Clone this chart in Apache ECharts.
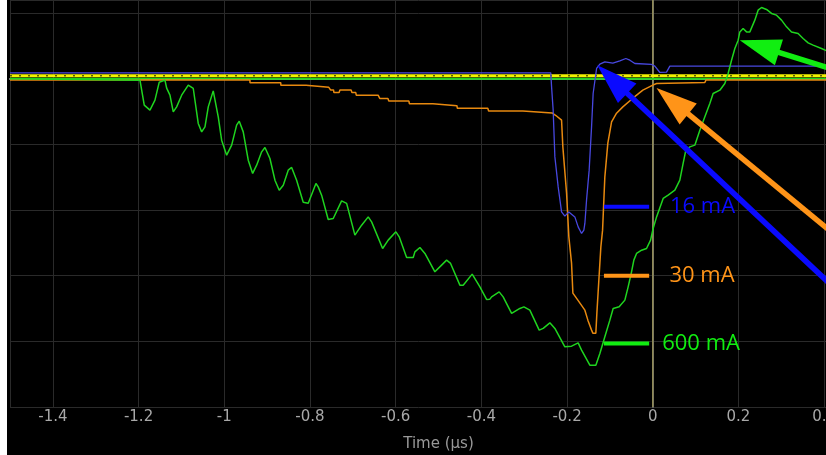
<!DOCTYPE html>
<html><head><meta charset="utf-8">
<script src="https://cdn.jsdelivr.net/npm/echarts@6/dist/echarts.min.js"></script>
<style>html,body{margin:0;padding:0;background:#000}#c{width:826px;height:455px}</style>
</head><body><div id="c"></div>
<script>
// x: time (µs), y: trace level in screen divisions (baseline = 0)
const xTickLabels = [-1.4, -1.2, -1, -0.8, -0.6, -0.4, -0.2, 0, 0.2, 0.4];
const xName = 'Time (µs)';

const blueTrace = [
  [-1.5,0.09],[-0.238,0.09],[-0.2361,-0.123],[-0.2324,-0.478],[-0.2284,-1.190],[-0.2207,-1.647],
  [-0.2128,-2.028],[-0.2051,-2.093],[-0.1958,-2.028],[-0.1818,-2.104],[-0.1741,-2.256],[-0.1661,-2.356],
  [-0.1608,-2.306],[-0.1584,-2.204],[-0.1545,-1.849],[-0.1484,-1.392],[-0.1428,-0.733],[-0.1391,-0.224],
  [-0.1311,0.157],[-0.1234,0.222],[-0.1118,0.257],[-0.0931,0.238],[-0.0768,0.273],[-0.0628,0.309],
  [-0.0534,0.283],[-0.0418,0.233],[-0.0028,0.218],[0.0049,0.192],[0.0166,0.096],[0.0322,0.101],
  [0.0399,0.192],[0.5,0.192]
];

const orangeTrace = [
  [-1.5,-0.02],[-0.940,-0.02],[-0.940,-0.06],[-0.868,-0.06],[-0.868,-0.10],[-0.809,-0.10],[-0.809,-0.13],
  [-0.756,-0.13],[-0.752,-0.17],[-0.745,-0.17],[-0.744,-0.21],[-0.732,-0.21],[-0.730,-0.17],[-0.704,-0.17],
  [-0.702,-0.21],[-0.693,-0.21],[-0.692,-0.25],[-0.641,-0.25],[-0.637,-0.30],[-0.618,-0.30],[-0.616,-0.34],
  [-0.602,-0.34],[-0.599,-0.31],[-0.596,-0.34],[-0.569,-0.34],[-0.568,-0.38],[-0.513,-0.38],[-0.511,-0.41],
  [-0.457,-0.41],[-0.456,-0.45],[-0.385,-0.45],[-0.383,-0.49],[-0.303,-0.49],[-0.302,-0.52],[-0.235,-0.52],
  [-0.233,-0.55],[-0.226,-0.56],[-0.2128,-0.631],[-0.2098,-1.037],[-0.2011,-1.743],[-0.1958,-2.408],
  [-0.1895,-2.809],[-0.1864,-3.266],[-0.1748,-3.372],[-0.1584,-3.525],[-0.1514,-3.677],[-0.1428,-3.829],
  [-0.1398,-3.875],[-0.1328,-3.875],[-0.1304,-3.570],[-0.1258,-3.068],[-0.1211,-2.561],[-0.1171,-2.306],
  [-0.1118,-1.494],[-0.1048,-0.981],[-0.0961,-0.657],[-0.0845,-0.524],[-0.0698,-0.428],[-0.0464,-0.296],
  [-0.0231,-0.174],[0.0002,-0.097],[0.0089,-0.072],[0.1216,-0.056],[0.124,-0.02],[0.5,-0.02]
];

const greenTrace = [
  [-1.5,0.0],[-1.1967,-0.021],[-1.1867,-0.402],[-1.1734,-0.478],[-1.1617,-0.326],[-1.1517,-0.052],
  [-1.1384,-0.021],[-1.1344,-0.143],[-1.1267,-0.250],[-1.1190,-0.504],[-1.1111,-0.428],[-1.0994,-0.250],
  [-1.0840,-0.097],[-1.0723,-0.148],[-1.0607,-0.681],[-1.0527,-0.809],[-1.0450,-0.733],[-1.0373,-0.428],
  [-1.0257,-0.184],[-1.0140,-0.580],[-1.0061,-0.935],[-0.9944,-1.164],[-0.9827,-1.011],[-0.9711,-0.707],
  [-0.9650,-0.646],[-0.9557,-0.809],[-0.9440,-1.240],[-0.9337,-1.442],[-0.9244,-1.316],[-0.9127,-1.113],
  [-0.9050,-1.046],[-0.8934,-1.214],[-0.8817,-1.545],[-0.8717,-1.697],[-0.8623,-1.621],[-0.8507,-1.392],
  [-0.8427,-1.351],[-0.8311,-1.545],[-0.8157,-1.880],[-0.8040,-1.895],[-0.7860,-1.595],[-0.7807,-1.647],
  [-0.7728,-1.773],[-0.7574,-2.143],[-0.7457,-2.128],[-0.7261,-1.860],[-0.7144,-1.899],[-0.6951,-2.382],
  [-0.6794,-2.230],[-0.6640,-2.104],[-0.6561,-2.180],[-0.6304,-2.585],[-0.6174,-2.458],[-0.5994,-2.332],
  [-0.5917,-2.408],[-0.5744,-2.722],[-0.5590,-2.722],[-0.5551,-2.637],[-0.5434,-2.570],[-0.5317,-2.661],
  [-0.5084,-2.941],[-0.4928,-2.839],[-0.4811,-2.763],[-0.4718,-2.813],[-0.4501,-3.144],[-0.4424,-3.144],
  [-0.4214,-2.976],[-0.4034,-3.170],[-0.3878,-3.362],[-0.3801,-3.357],[-0.3761,-3.322],[-0.3584,-3.246],
  [-0.3491,-3.322],[-0.3294,-3.575],[-0.3101,-3.499],[-0.3007,-3.474],[-0.2868,-3.525],[-0.2650,-3.829],
  [-0.2557,-3.803],[-0.2401,-3.718],[-0.2284,-3.803],[-0.2051,-4.084],[-0.1895,-4.073],[-0.1741,-4.023],
  [-0.1661,-4.134],[-0.1468,-4.363],[-0.1328,-4.363],[-0.1234,-4.184],[-0.1118,-3.931],[-0.1001,-3.677],
  [-0.0924,-3.499],[-0.0784,-3.474],[-0.0651,-3.372],[-0.0574,-3.170],[-0.0495,-2.941],[-0.0441,-2.763],
  [-0.0378,-2.661],[-0.0261,-2.611],[-0.0145,-2.585],[-0.0051,-2.458],[0.0009,-2.280],[0.0089,-2.104],
  [0.0243,-1.823],[0.0359,-1.773],[0.0516,-1.697],[0.0632,-1.545],[0.0709,-1.290],[0.0772,-1.088],
  [0.0866,-1.037],[0.0982,-1.011],[0.1099,-0.783],[0.1216,-0.580],[0.1332,-0.376],[0.1409,-0.224],
  [0.1566,-0.174],[0.1682,-0.072],[0.1759,0.081],[0.1839,0.283],[0.1916,0.462],[0.1993,0.588],
  [0.2032,0.714],[0.2109,0.766],[0.2189,0.714],[0.2266,0.714],[0.2382,0.893],[0.2459,1.045],
  [0.2539,1.086],[0.2655,1.056],[0.2772,0.995],[0.2888,0.969],[0.3005,0.893],[0.3122,0.791],
  [0.3238,0.714],[0.3392,0.690],[0.3509,0.614],[0.3626,0.547],[0.3742,0.512],[0.3938,0.462],[0.4132,0.405]
];

const greenBaseline = [[-1.5, 0.0], [0.5, 0.0]];
const yellowBand = [[-1.5, 0.045], [0.5, 0.045]];

// annotations (data coordinates)
const legendNames = ['16 mA', '30 mA', '600 mA'];
const legendLevels = [-1.951, -3.002, -4.032];
const legendSpan = [-0.1139, -0.0084];
const legendTextT = [0.0400, 0.0390, 0.0220];
const arrowTips = [[-0.1293, 0.207], [0.0089, -0.139], [0.2032, 0.588]];
const arrowTails = [[0.5, -3.654], [0.5, -2.78], [0.5, -0.02]];
const cursorT = 0;

const traceColors = ['#4848e0', '#e8890f', '#1fd41f'];
const annoColors = ['#0a0aff', '#ff9418', '#11ee11'];

const chart = echarts.init(document.getElementById('c'), null, {renderer: 'canvas'});
const lineS = (data, color, width, z, extra) => Object.assign({
  type: 'line', data, showSymbol: false, symbol: 'none', animation: false, z: z,
  lineStyle: {color, width}, emphasis: {disabled: true}, silent: true
}, extra || {});

chart.setOption({
  backgroundColor: '#000',
  animation: false,
  grid: {left: 10, right: -41, top: 0, bottom: 48, containLabel: false, outerBoundsMode: 'none'},
  xAxis: {
    type: 'value', min: -1.5, max: 0.5, splitNumber: 10,
    axisLine: {show: true, lineStyle: {color: '#9a9a9a', width: 2}},
    axisTick: {show: false},
    splitLine: {show: true, lineStyle: {color: '#2a2a2a', width: 1}},
    axisLabel: {
      color: '#a8a8a8', fontSize: 15, fontFamily: 'DejaVu Sans', margin: 3,
      showMinLabel: true, showMaxLabel: true, hideOverlap: false,
      formatter: v => {
        const hit = xTickLabels.find(t => Math.abs(t - v) < 1e-6);
        return hit === undefined ? '' : String(hit);
      }
    },
    name: xName, nameLocation: 'middle', nameGap: 30,
    nameTextStyle: {color: '#999999', fontSize: 15, fontFamily: 'DejaVu Sans'}
  },
  yAxis: {
    type: 'value', min: -5, max: 1.2, interval: 1,
    axisLine: {show: true, lineStyle: {color: '#6a6a6a', width: 2}},
    axisTick: {show: false}, axisLabel: {show: false},
    splitLine: {show: true, lineStyle: {color: '#2a2a2a', width: 1}}
  },
  series: [
    lineS(greenBaseline, '#1fd41f', 2, 2),
    lineS(yellowBand, '#f2f200', 3, 3),
    lineS(yellowBand, '#202000', 1, 3, {lineStyle: {color: '#1a1a00', width: 1, type: [2, 7]}}),
    lineS(orangeTrace, traceColors[1], 1.5, 4),
    lineS(blueTrace, traceColors[0], 1.3, 5),
    lineS(greenTrace, traceColors[2], 1.5, 6)
  ]
});

function px(p) { return chart.convertToPixel({gridIndex: 0}, p); }
const g = [];
g.push({type: 'rect', z: 200, shape: {x: 0, y: 0, width: 7, height: 455}, style: {fill: '#ffffff'}});
// cursor line at t = 0
const c0 = px([cursorT, 1.2]), c1 = px([cursorT, -5]);
g.push({type: 'line', z: 1, shape: {x1: c0[0], y1: c0[1], x2: c1[0], y2: c1[1]}, style: {stroke: '#8f8955', lineWidth: 1.5}});
// legend segments and labels
for (let i = 0; i < 3; i++) {
  const a = px([legendSpan[0], legendLevels[i]]), b = px([legendSpan[1], legendLevels[i]]);
  g.push({type: 'line', z: 100, shape: {x1: a[0], y1: a[1], x2: b[0], y2: b[1]}, style: {stroke: annoColors[i], lineWidth: 4}});
  const tp = px([legendTextT[i], legendLevels[i]]);
  g.push({type: 'text', z: 110, x: tp[0], y: tp[1], style: {text: legendNames[i], fill: annoColors[i], font: '22px "Open Sans", "Noto Sans", sans-serif', textVerticalAlign: 'middle', verticalAlign: 'middle'}});
}
// arrows
for (let i = 0; i < 3; i++) {
  const P = px(arrowTips[i]), T = px(arrowTails[i]);
  const dx = P[0] - T[0], dy = P[1] - T[1], len = Math.hypot(dx, dy);
  const ux = dx / len, uy = dy / len, nx = -uy, ny = ux;
  const L = 41, W = 27;
  const B = [P[0] - ux * L, P[1] - uy * L];
  g.push({type: 'line', z: 100, shape: {x1: T[0], y1: T[1], x2: B[0] + ux * 2, y2: B[1] + uy * 2}, style: {stroke: annoColors[i], lineWidth: 5.5}});
  g.push({type: 'polygon', z: 101, shape: {points: [P, [B[0] + nx * W / 2, B[1] + ny * W / 2], [B[0] - nx * W / 2, B[1] - ny * W / 2]]}, style: {fill: annoColors[i]}});
}
chart.setOption({graphic: g});
</script></body></html>
